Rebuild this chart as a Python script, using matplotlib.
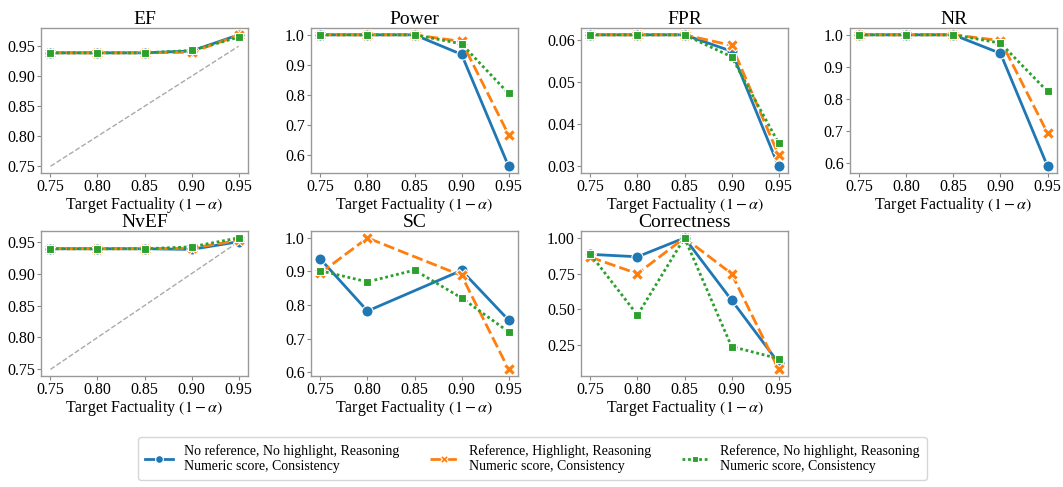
import numpy as np
import matplotlib
matplotlib.use("Agg")
import matplotlib.pyplot as plt
from matplotlib.ticker import FormatStrFormatter

plt.rcParams['font.family'] = ['Liberation Serif', 'DejaVu Serif']
plt.rcParams['mathtext.fontset'] = 'stix'

x = [0.75, 0.80, 0.85, 0.90, 0.95]
series_labels = ["No reference, No highlight, Reasoning\nNumeric score, Consistency",
                 "Reference, Highlight, Reasoning\nNumeric score, Consistency",
                 "Reference, No highlight, Reasoning\nNumeric score, Consistency"]

ef = [[0.939, 0.939, 0.939, 0.942, 0.969],
      [0.939, 0.939, 0.939, 0.940, 0.968],
      [0.939, 0.939, 0.939, 0.943, 0.965]]
power = [[1.0, 1.0, 1.0, 0.935, 0.563],
         [1.0, 1.0, 1.0, 0.978, 0.668],
         [1.0, 1.0, 1.0, 0.970, 0.805]]
fpr = [[0.0612, 0.0612, 0.0612, 0.0573, 0.0300],
       [0.0612, 0.0612, 0.0612, 0.0587, 0.0327],
       [0.0612, 0.0612, 0.0612, 0.0560, 0.0355]]
nr = [[1.0, 1.0, 1.0, 0.942, 0.589],
      [1.0, 1.0, 1.0, 0.982, 0.693],
      [1.0, 1.0, 1.0, 0.974, 0.823]]
nvef = [[0.939, 0.939, 0.939, 0.938, 0.950],
        [0.939, 0.939, 0.939, 0.940, 0.952],
        [0.939, 0.939, 0.939, 0.942, 0.956]]
sc = [[0.937, 0.782, np.nan, 0.903, 0.755],
      [0.895, 1.000, np.nan, 0.888, 0.608],
      [0.902, 0.869, 0.904, 0.821, 0.720]]
correct = [[0.885, 0.868, 1.0, 0.565, 0.125],
           [0.865, 0.750, 1.0, 0.750, 0.080],
           [0.885, 0.460, 1.0, 0.240, 0.155]]

ticks_ef = [0.75, 0.80, 0.85, 0.90, 0.95]
ticks_power = [0.6, 0.7, 0.8, 0.9, 1.0]
ticks_fpr = [0.03, 0.04, 0.05, 0.06]
ticks_sc = [0.6, 0.7, 0.8, 0.9, 1.0]
ticks_corr = [0.25, 0.50, 0.75, 1.00]

# name, data, diagonal?, yticks, format
panels = [("EF", ef, True, ticks_ef, "%.2f"),
          ("Power", power, False, ticks_power, "%.1f"),
          ("FPR", fpr, False, ticks_fpr, "%.2f"),
          ("NR", nr, False, ticks_power, "%.1f"),
          ("NvEF", nvef, True, ticks_ef, "%.2f"),
          ("SC", sc, False, ticks_sc, "%.1f"),
          ("Correctness", correct, False, ticks_corr, "%.2f")]

colors = ["#1f77b4", "#ff7f0e", "#2ca02c"]
markers = ["o", "X", "s"]
msizes = [8, 8, 6]
dashes = [None, (4, 1.5), (1, 1)]

fig = plt.figure(figsize=(10.63, 4.87), dpi=100)
lefts = [0.0386, 0.2926, 0.5466, 0.7996]
bottoms = [0.645, 0.228]
w, h = 0.1947, 0.297

handles = []
for k, (name, data, diag, yt, fmt) in enumerate(panels):
    ax = fig.add_axes([lefts[k % 4], bottoms[k // 4], w, h])
    if diag:
        ax.plot([x[0], x[-1]], [x[0], x[-1]], color="#aaaaaa", lw=1, ls="--", zorder=1)
    for i in range(3):
        xs = np.array(x)
        ys = np.array(data[i], dtype=float)
        m = ~np.isnan(ys)
        line, = ax.plot(xs[m], ys[m], color=colors[i], marker=markers[i], ms=msizes[i],
                        mec="white", mew=0.8, lw=2, label=series_labels[i], zorder=2 + i)
        if dashes[i] is not None:
            line.set_dashes(dashes[i])
        if k == 0:
            handles.append(line)
    ax.set_title(name, fontsize=14, pad=3)
    ax.set_xlabel(r"Target Factuality $(1-\alpha)$", fontsize=11.5, labelpad=0)
    ax.set_xticks(x)
    ax.set_yticks(yt)
    ax.yaxis.set_major_formatter(FormatStrFormatter(fmt))
    ax.tick_params(labelsize=11.5, length=3, width=0.8, color="#888888", pad=1.5)
    for s in ax.spines.values():
        s.set_color("#999999")
        s.set_linewidth(1)

fig.legend(handles=handles, loc="lower center", bbox_to_anchor=(0.501, 0.0), ncol=3,
           fontsize=10, frameon=True, handlelength=2.0, columnspacing=2.2, borderpad=0.5,
           markerscale=0.7)

fig.savefig("out.png", dpi=100)
